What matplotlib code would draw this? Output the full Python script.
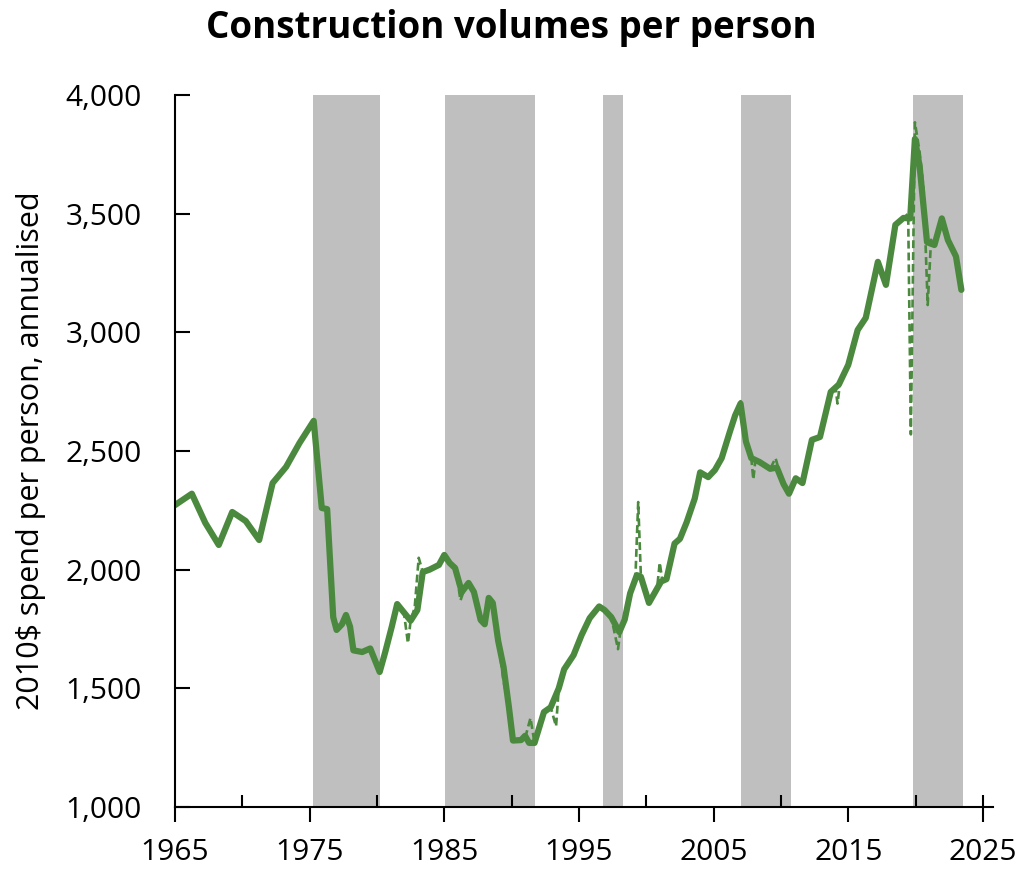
import matplotlib
matplotlib.use("Agg")
import matplotlib.pyplot as plt
from matplotlib.ticker import FuncFormatter, FixedLocator

# ---------------- data ----------------
solid_years = [1965.0, 1966.25, 1967.25, 1968.25, 1969.25, 1970.25, 1971.25, 1972.25, 1973.25, 1974.25,
               1975.3, 1975.9, 1976.3, 1976.75, 1977.0, 1977.4, 1977.7, 1978.0, 1978.25, 1978.9,
               1979.5, 1980.2, 1980.6, 1981.1, 1981.5, 1982.0, 1982.5, 1983.0, 1983.4, 1983.9,
               1984.6, 1985.0, 1985.4, 1985.8, 1986.3, 1986.8, 1987.2, 1987.7, 1988.0, 1988.3,
               1988.6, 1989.0, 1989.4, 1989.8, 1990.1, 1990.7, 1991.0, 1991.3, 1991.7, 1992.4,
               1992.9, 1993.5, 1993.9, 1994.6, 1995.2, 1995.8, 1996.5, 1996.9, 1997.4, 1998.0,
               1998.4, 1998.8, 1999.3, 1999.6, 2000.2, 2000.8, 2001.1, 2001.5, 2002.1, 2002.5,
               2003.0, 2003.6, 2004.0, 2004.6, 2005.1, 2005.6, 2006.2, 2006.6, 2007.0, 2007.4,
               2007.8, 2008.4, 2009.2, 2009.7, 2010.2, 2010.6, 2011.1, 2011.6, 2012.3, 2012.9,
               2013.7, 2014.3, 2015.0, 2015.7, 2016.3, 2017.2, 2017.8, 2018.5, 2019.1, 2019.6,
               2019.95, 2020.3, 2020.85, 2021.4, 2021.95, 2022.4, 2023.0, 2023.4]
solid_values = [2272, 2320, 2197, 2104, 2243, 2205, 2125, 2365, 2433, 2534,
                2627, 2260, 2255, 1800, 1746, 1770, 1809, 1760, 1660, 1653,
                1668, 1569, 1650, 1760, 1855, 1820, 1785, 1830, 1990, 2000,
                2020, 2062, 2028, 2007, 1906, 1944, 1906, 1788, 1770, 1881,
                1860, 1700, 1590, 1420, 1280, 1282, 1300, 1270, 1270, 1400,
                1420, 1500, 1580, 1640, 1725, 1796, 1845, 1830, 1800, 1737,
                1790, 1900, 1977, 1970, 1860, 1920, 1950, 1960, 2110, 2130,
                2200, 2300, 2410, 2390, 2420, 2470, 2580, 2650, 2700, 2540,
                2470, 2454, 2425, 2430, 2360, 2320, 2385, 2365, 2547, 2559,
                2749, 2780, 2863, 3010, 3061, 3297, 3200, 3453, 3482, 3480,
                3815, 3700, 3380, 3368, 3480, 3389, 3320, 3179]

dashed_years = [1965.0, 1966.25, 1967.25, 1968.25, 1969.25, 1970.25, 1971.25, 1972.25, 1973.25, 1974.25,
                1975.3, 1975.9, 1976.3, 1976.75, 1977.0, 1977.4, 1977.7, 1978.0, 1978.25, 1978.9,
                1979.5, 1980.2, 1980.6, 1981.1, 1981.5, 1982.0, 1982.3, 1982.5, 1982.8, 1983.1,
                1983.4, 1983.9, 1984.6, 1985.0, 1985.4, 1985.9, 1986.2, 1986.5, 1986.8, 1987.2,
                1987.7, 1988.0, 1988.3, 1988.6, 1989.0, 1989.4, 1989.8, 1990.1, 1990.7, 1991.0,
                1991.4, 1991.7, 1992.4, 1992.9, 1993.3, 1993.5, 1993.9, 1994.6, 1995.2, 1995.8,
                1996.5, 1996.9, 1997.4, 1997.9, 1998.1, 1998.4, 1998.8, 1999.2, 1999.4, 1999.6,
                2000.2, 2000.8, 2001.0, 2001.2, 2001.5, 2002.1, 2002.5, 2003.0, 2003.6, 2004.0,
                2004.6, 2005.1, 2005.6, 2006.2, 2006.6, 2007.0, 2007.4, 2007.8, 2007.95, 2008.1,
                2008.4, 2009.2, 2009.6, 2009.8, 2010.2, 2010.6, 2011.1, 2011.6, 2012.3, 2012.9,
                2013.7, 2014.05, 2014.2, 2014.4, 2015.0, 2015.7, 2016.3, 2017.2, 2017.8, 2018.5,
                2019.1, 2019.45, 2019.65, 2019.95, 2020.3, 2020.6, 2020.9, 2021.15, 2021.4, 2021.95,
                2022.4, 2023.0, 2023.4]
dashed_values = [2272, 2320, 2197, 2104, 2243, 2205, 2125, 2365, 2433, 2534,
                 2627, 2260, 2255, 1800, 1746, 1770, 1809, 1760, 1660, 1653,
                 1668, 1569, 1650, 1760, 1855, 1820, 1690, 1785, 1840, 2050,
                 1990, 2000, 2020, 2062, 2028, 1990, 1870, 1920, 1944, 1906,
                 1788, 1770, 1881, 1860, 1700, 1530, 1420, 1280, 1282, 1290,
                 1375, 1270, 1400, 1420, 1340, 1500, 1580, 1640, 1725, 1796,
                 1845, 1830, 1800, 1665, 1750, 1790, 1900, 1977, 2285, 1970,
                 1860, 1920, 2030, 1950, 1960, 2110, 2130, 2200, 2300, 2410,
                 2390, 2420, 2470, 2580, 2650, 2710, 2540, 2470, 2380, 2460,
                 2454, 2425, 2470, 2430, 2360, 2320, 2385, 2365, 2547, 2559,
                 2749, 2770, 2700, 2790, 2863, 3010, 3061, 3297, 3200, 3453,
                 3482, 3500, 2570, 3885, 3760, 3600, 3115, 3390, 3368, 3480,
                 3389, 3320, 3179]

recessions = [(1975.25, 1980.2), (1985.05, 1991.7), (1996.8, 1998.26), (2007.0, 2010.73), (2019.8, 2023.5)]

x_major = [1965, 1975, 1985, 1995, 2005, 2015, 2025]
x_minor = [1970, 1980, 1990, 2000, 2010, 2020, 2025]
y_ticks = [1000, 1500, 2000, 2500, 3000, 3500, 4000]

title = "Construction volumes per person"
ylabel = "2010\\$ spend per person, annualised"

# ---------------- plot ----------------
plt.rcParams['font.family'] = ['Open Sans', 'DejaVu Sans']
green = "#4b8a3e"
fig = plt.figure(figsize=(10.23, 8.69), dpi=100)
ax = fig.add_axes([175/1023, 1 - 807/869, (993 - 175)/1023, (807 - 95)/869])

for a, b in recessions:
    ax.axvspan(a, b, color="#bfbfbf", lw=0, zorder=0)

ax.plot(dashed_years, dashed_values, color=green, lw=1.9, ls=(0, (3, 1.5)), zorder=2)
ax.plot(solid_years, solid_values, color=green, lw=4.5, solid_joinstyle='round', solid_capstyle='round', zorder=3)

ax.set_xlim(1965, 2025.75)
ax.set_ylim(1000, 4000)

for s in ['top', 'right']:
    ax.spines[s].set_visible(False)
for s in ['left', 'bottom']:
    ax.spines[s].set_linewidth(1.5)
    ax.spines[s].set_zorder(4)

ax.xaxis.remove_overlapping_locs = False
ax.xaxis.set_major_locator(FixedLocator(x_major))
ax.xaxis.set_minor_locator(FixedLocator(x_minor))
ax.set_yticks(y_ticks)
ax.yaxis.set_major_formatter(FuncFormatter(lambda v, p: f"{int(v):,}"))
ax.tick_params(axis='x', which='major', direction='out', length=11, width=1.5, labelsize=21.5, pad=11)
ax.tick_params(axis='x', which='minor', direction='in', length=9, width=1.5)
ax.tick_params(axis='y', which='major', direction='in', length=11, width=1.5, labelsize=21.5, pad=24)

ax.set_ylabel(ylabel, fontsize=22, labelpad=14)
fig.text(0.5, 0.99, title, ha='center', va='top', fontsize=26.5, fontweight='bold')

fig.savefig("out.png", dpi=100)
